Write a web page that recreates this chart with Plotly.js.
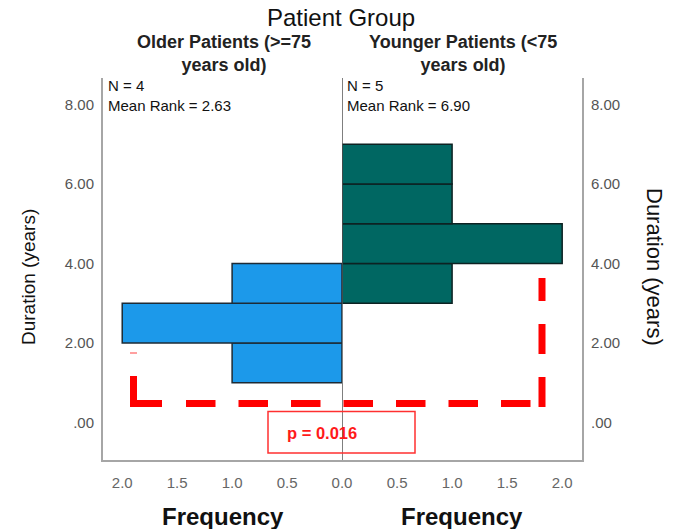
<!DOCTYPE html>
<html><head><meta charset="utf-8">
<script src="https://cdn.plot.ly/plotly-3.0.1.min.js"></script>
<style>html,body{margin:0;padding:0;background:#fff}#chart{width:680px;height:529px}</style>
</head><body><div id="chart"></div>
<script>
// ---- data ----
const olderBins = [1.5, 2.5, 3.5];          // bin centres (years), bin width 1
const olderFreq = [1, 2, 1];
const youngerBins = [3.5, 4.5, 5.5, 6.5];
const youngerFreq = [1, 2, 1, 1];
const yTickVals = [0, 2, 4, 6, 8];
const yTickText = ['.00', '2.00', '4.00', '6.00', '8.00'];
const olderXTicks = [0.5, 1, 1.5, 2];
const olderXText = ['0.5', '1.0', '1.5', '2.0'];
const youngerXTicks = [0, 0.5, 1, 1.5, 2];
const youngerXText = ['0.0', '0.5', '1.0', '1.5', '2.0'];
const groupTitle = 'Patient Group';
const groupLabels = [['Older Patients (>=75', 'years old)'], ['Younger Patients (<75', 'years old)']];
const statLabels = [['N = 4', 'Mean Rank = 2.63'], ['N = 5', 'Mean Rank = 6.90']];
const pText = 'p = 0.016';

// ---- layout helpers (pixel -> paper) ----
const W = 680, H = 529, L = 103, R = 98, T = 78, B = 69;
const pw = W - L - R, ph = H - T - B;
const fx = p => (p - L) / pw;
const fy = p => (H - B - p) / ph;
const split = fx(342);
const FONT = 'Liberation Sans, Arial, sans-serif';

const traces = [
  {type: 'bar', orientation: 'h', y: olderBins, x: olderFreq, width: 1,
   xaxis: 'x', yaxis: 'y',
   marker: {color: '#1c99ea', line: {color: '#1d2b36', width: 1.5}}, hoverinfo: 'skip'},
  {type: 'bar', orientation: 'h', y: youngerBins, x: youngerFreq, width: 1,
   xaxis: 'x2', yaxis: 'y2',
   marker: {color: '#006762', line: {color: '#0d2222', width: 1.5}}, hoverinfo: 'skip'}
];

const yCommon = {range: [-0.943, 8.667], tickvals: yTickVals, ticktext: yTickText,
  showgrid: false, zeroline: false, showline: true, linecolor: '#a6a6a6', linewidth: 2,
  ticks: '', tickfont: {family: FONT, size: 15, color: '#555'}, ticklabelstandoff: 4, domain: [0, 1]};
const xCommon = {showgrid: false, zeroline: false, showline: true, linecolor: '#a6a6a6', linewidth: 2,
  ticks: '', tickfont: {family: FONT, size: 15, color: '#666'}, ticklabelstandoff: 8};

const ann = [];
function txt(text, x, y, size, opts) {
  ann.push(Object.assign({text: text, xref: 'paper', yref: 'paper', x: fx(x), y: fy(y),
    showarrow: false, xanchor: 'center', yanchor: 'middle',
    font: {family: FONT, size: size, color: '#111'}}, opts || {}));
}
const hdrFont = {family: FONT, size: 18, color: '#222'};
txt(groupTitle, 341, 17, 24);
txt('<b>' + groupLabels[0].join('<br>') + '</b>', 224, 53.5, 18, {font: hdrFont});
txt('<b>' + groupLabels[1].join('<br>') + '</b>', 463, 53.5, 18, {font: hdrFont});
txt(statLabels[0].join('<br>'), 106, 95, 15, {xanchor: 'left', align: 'left'});
txt(statLabels[1].join('<br>'), 345, 95, 15, {xanchor: 'left', align: 'left'});
txt('Duration (years)', 28, 277, 19, {textangle: -90});
txt('Duration (years)', 655, 267, 22, {textangle: 90});
txt('<b>Frequency</b>', 223, 516, 24);
txt('<b>Frequency</b>', 462, 516, 24);
txt('<b>' + pText + '</b>', 285, 433, 16.5, {xanchor: 'left', font: {family: FONT, size: 16.5, color: '#ff1a1a'}});

const red = '#ff0000';
const shapes = [
  // centre line
  {type: 'line', xref: 'x2', yref: 'paper', x0: 0, x1: 0, y0: 0, y1: 1,
   line: {color: '#555', width: 1.5}, layer: 'above'},
  // corner of dashed bracket
  {type: 'path', xref: 'paper', yref: 'paper',
   path: `M ${fx(133.5)},${fy(376)} L ${fx(133.5)},${fy(403.5)} L ${fx(162)},${fy(403.5)}`,
   line: {color: red, width: 7}, layer: 'above'},
  // horizontal dashed run
  {type: 'line', xref: 'paper', yref: 'paper', x0: fx(186), x1: fx(532), y0: fy(403.5), y1: fy(403.5),
   line: {color: red, width: 7, dash: '29.5px,23px'}, layer: 'above'},
  // vertical dashed run
  {type: 'line', xref: 'paper', yref: 'paper', x0: fx(542), x1: fx(542), y0: fy(407), y1: fy(278),
   line: {color: red, width: 7, dash: '30px,23px'}, layer: 'above'},
  // small faint mark
  {type: 'line', xref: 'paper', yref: 'paper', x0: fx(130), x1: fx(137), y0: fy(353), y1: fy(353),
   line: {color: '#ff8080', width: 1.5}, layer: 'above'},
  // p-value box
  {type: 'rect', xref: 'paper', yref: 'paper', x0: fx(268), x1: fx(415), y0: fy(411.5), y1: fy(453),
   line: {color: '#ff3030', width: 1.5}, fillcolor: 'rgba(255,255,255,0)', layer: 'above'}
];

const layout = {
  width: W, height: H, margin: {l: L, r: R, t: T, b: B},
  paper_bgcolor: '#fff', plot_bgcolor: '#fff', showlegend: false, bargap: 0,
  xaxis: Object.assign({}, xCommon, {domain: [0, split], range: [2.175, 0], tickvals: olderXTicks, ticktext: olderXText, anchor: 'y'}),
  xaxis2: Object.assign({}, xCommon, {domain: [split, 1], range: [0, 2.18], tickvals: youngerXTicks, ticktext: youngerXText, anchor: 'y2'}),
  yaxis: Object.assign({}, yCommon, {anchor: 'x', side: 'left'}),
  yaxis2: Object.assign({}, yCommon, {anchor: 'x2', side: 'right'}),
  annotations: ann, shapes: shapes
};

Plotly.newPlot('chart', traces, layout, {displayModeBar: false, staticPlot: true});
</script>
</body></html>
